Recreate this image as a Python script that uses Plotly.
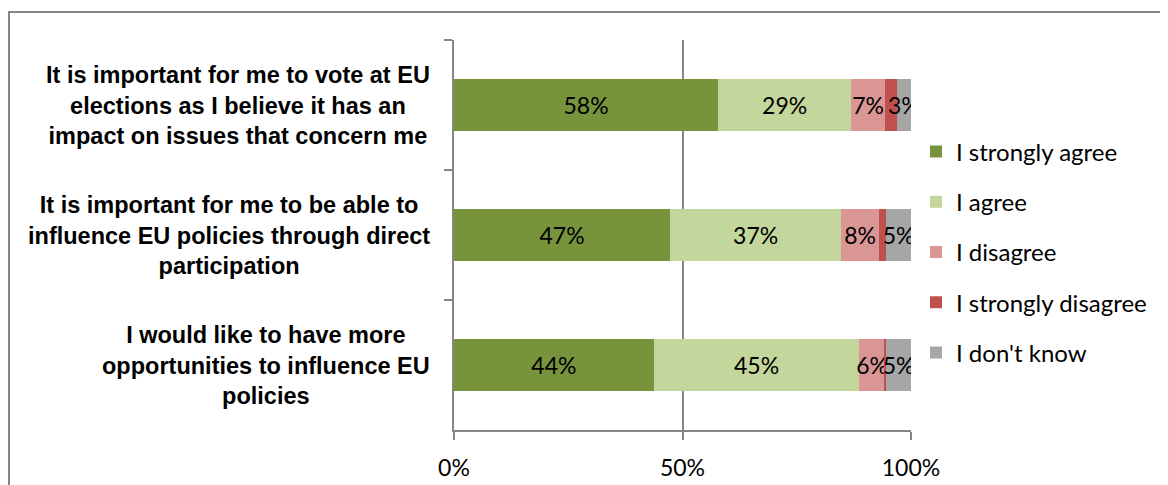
import plotly.graph_objects as go

categories = [
    "It is important for me to vote at EU<br>elections as I believe it has an<br>impact on issues that concern me",
    "It is important for me to be able to<br>influence EU policies through direct<br>participation",
    "I would like to have more<br>opportunities to influence EU<br>policies",
]
series_names = ["I strongly agree", "I agree", "I disagree", "I strongly disagree", "I don't know"]
strongly_agree = [57.8, 47.3, 43.7]
agree = [29.1, 37.4, 45.0]
disagree = [7.4, 8.3, 5.6]
strongly_disagree = [2.6, 1.6, 0.3]
dont_know = [3.1, 5.4, 5.4]
show_labels = [True, True, True, False, True]
colors = ["#77933C", "#C3D69B", "#D99694", "#C0504D", "#A6A6A6"]
x_ticks = [0, 50, 100]
x_tick_labels = ["0%", "50%", "100%"]

values = [strongly_agree, agree, disagree, strongly_disagree, dont_know]
cat_ids = ["c0", "c1", "c2"]

fig = go.Figure()
for i, (name, vals) in enumerate(zip(series_names, values)):
    fig.add_trace(go.Bar(
        y=cat_ids, x=vals, name=name, orientation="h",
        marker=dict(color=colors[i], line=dict(width=0)),
        width=0.4,
        texttemplate="%{x:.0f}%" if show_labels[i] else None,
        textposition="inside" if show_labels[i] else "none",
        insidetextanchor="middle",
        constraintext="none",
        textangle=0,
        textfont=dict(family="Lato", size=23, color="#000000"),
        legendgroup=name,
        hoverinfo="skip",
    ))

# page has an 8px body margin; compensate so pixel positions match
OX, OY = 8, 8
FW, FH = 1168 - OX, 485 - OY
L = 454 - OX
T = 40 - OY
PW = 911 - 454
PH = 430 - 40
R = FW - L - PW
B = FH - T - PH

for cid, label in zip(cat_ids, categories):
    fig.add_annotation(
        x=0, xref="paper", y=cid, yref="y", xanchor="right", yanchor="middle",
        xshift=-22, text="<b>" + label + "</b>", align="center", showarrow=False,
        font=dict(family="Liberation Sans", size=23.5, color="#000000"),
    )

# outer chart frame
fig.add_shape(type="rect", xref="paper", yref="paper",
              x0=(1 - L) / PW, x1=(FW + 50 - L) / PW,
              y0=-(FH + 50 - T - PH) / PH, y1=1 + (T - 4) / PH,
              line=dict(color="#868686", width=2), fillcolor="rgba(0,0,0,0)", layer="below")

fig.update_layout(
    barmode="stack",
    width=FW, height=FH,
    margin=dict(l=L, r=R, t=T, b=B, autoexpand=False),
    paper_bgcolor="white", plot_bgcolor="white",
    showlegend=True,
    legend=dict(
        x=(916 - OX - L) / PW, xanchor="left",
        y=1 - (252 - OY - T) / PH, yanchor="middle",
        traceorder="grouped", tracegroupgap=16,
        font=dict(family="Lato", size=24, color="#000000"),
        itemwidth=30, bgcolor="rgba(0,0,0,0)",
    ),
    xaxis=dict(
        range=[0, 100], tickvals=x_ticks, ticktext=x_tick_labels,
        showgrid=True, gridcolor="#868686", gridwidth=1.5,
        showline=True, linecolor="#868686", linewidth=1.5,
        ticks="outside", ticklen=8, tickcolor="#868686", tickwidth=1.5,
        ticklabelstandoff=9,
        tickfont=dict(family="Lato", size=23, color="#000000"),
        zeroline=False, fixedrange=True,
    ),
    yaxis=dict(
        categoryorder="array", categoryarray=cat_ids, autorange="reversed",
        showticklabels=False, showgrid=False,
        showline=True, linecolor="#868686", linewidth=1.5,
        ticks="outside", ticklen=8, tickcolor="#868686", tickwidth=1.5,
        tickson="boundaries", zeroline=False, fixedrange=True,
    ),
)

fig.write_html("out.html")
